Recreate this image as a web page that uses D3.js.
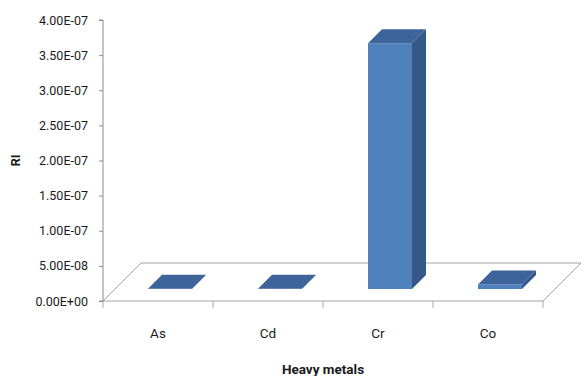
<!DOCTYPE html>
<html>
<head>
<meta charset="utf-8">
<script src="https://cdn.jsdelivr.net/npm/d3@7/dist/d3.min.js"></script>
<style>
  html, body { margin: 0; padding: 0; background: #ffffff; }
  svg { display: block; }
  text { font-family: Roboto, "Liberation Sans", Arial, sans-serif; fill: #1a1a1a; }
</style>
</head>
<body>
<svg id="chart" width="584" height="376"></svg>
<script>
// Risk index per heavy metal
const metals = ["As", "Cd", "Cr", "Co"];
const riValues = [5e-10, 4e-10, 3.5e-7, 6.5e-9];
const yTicks = [0, 5e-8, 1e-7, 1.5e-7, 2e-7, 2.5e-7, 3e-7, 3.5e-7, 4e-7];

(function () {
  const svg = d3.select("#chart");
  const fontStack = "Roboto, 'Liberation Sans', Arial, sans-serif";

  // Plot frame (front plane of the oblique 3D floor)
  const plotLeft = 103, plotRight = 543, plotTop = 20, plotBottom = 301;
  const floorDepth = 38;             // oblique offset of the floor (dx = -dy)
  const barFront = 12, barBack = 26; // bar depth span inside the floor

  const x = d3.scaleBand().domain(metals).range([plotLeft, plotRight]).padding(0);
  const y = d3.scaleLinear().domain([0, 4e-7]).range([plotBottom, plotTop]);
  const barW = x.bandwidth() * 0.4;

  const colors = { front: "#4f81bd", top: "#3d659b", side: "#34588a" };

  // Floor parallelogram
  const floorPts = [
    [plotLeft, plotBottom], [plotRight, plotBottom],
    [plotRight + floorDepth, plotBottom - floorDepth], [plotLeft + floorDepth, plotBottom - floorDepth]
  ];
  svg.append("polygon")
    .attr("points", floorPts.map(p => p.join(",")).join(" "))
    .attr("fill", "#ffffff")
    .attr("stroke", "#a6a6a6")
    .attr("stroke-width", 1);

  // Category boundary ticks below the front edge
  const boundaries = metals.map(m => x(m)).concat([plotRight]);
  svg.append("g").selectAll("line").data(boundaries).join("line")
    .attr("x1", d => d).attr("x2", d => d)
    .attr("y1", plotBottom).attr("y2", plotBottom + 7)
    .attr("stroke", "#a6a6a6");

  // Value axis
  const yAxis = d3.axisLeft(y)
    .tickValues(yTicks)
    .tickSize(4)
    .tickPadding(11)
    .tickFormat(v => {
      const [m, e] = v.toExponential(2).split("e");
      const sign = e[0] === "-" ? "-" : "+";
      const digits = e.replace(/^[+-]/, "").padStart(2, "0");
      return m + "E" + sign + digits;
    });
  const yg = svg.append("g").attr("transform", `translate(${plotLeft},0)`).call(yAxis);
  yg.select(".domain").attr("stroke", "#8c8c8c").attr("d", `M-4,${plotTop}H0V${plotBottom}H-4`);
  yg.selectAll(".tick line").attr("stroke", "#8c8c8c");
  yg.selectAll(".tick text").attr("font-size", 12.5).attr("fill", "#1a1a1a")
    .style("font-family", fontStack);

  // Bars as oblique boxes: front, top and right side faces
  const bars = svg.append("g").selectAll("g")
    .data(metals.map((m, i) => ({ m, v: riValues[i] }))).join("g");
  bars.each(function (d) {
    const g = d3.select(this);
    const x0 = x(d.m) + (x.bandwidth() - barW) / 2 + barFront;
    const x1 = x0 + barW;
    const yb = y(0) - barFront;
    const yt = y(d.v) - barFront;
    const dd = barBack - barFront;
    g.append("polygon")
      .attr("points", [[x0, yb], [x1, yb], [x1, yt], [x0, yt]].map(p => p.join(",")).join(" "))
      .attr("fill", colors.front);
    g.append("polygon")
      .attr("points", [[x0, yt], [x1, yt], [x1 + dd, yt - dd], [x0 + dd, yt - dd]].map(p => p.join(",")).join(" "))
      .attr("fill", colors.top);
    g.append("polygon")
      .attr("points", [[x1, yb], [x1 + dd, yb - dd], [x1 + dd, yt - dd], [x1, yt]].map(p => p.join(",")).join(" "))
      .attr("fill", colors.side);
  });

  // Category labels
  svg.append("g").selectAll("text").data(metals).join("text")
    .attr("x", d => x(d) + x.bandwidth() / 2)
    .attr("y", 338)
    .attr("text-anchor", "middle")
    .attr("font-size", 13.5)
    .text(d => d);

  // Axis titles
  svg.append("text")
    .attr("x", (plotLeft + plotRight) / 2)
    .attr("y", 374)
    .attr("text-anchor", "middle")
    .attr("font-size", 13.5)
    .attr("font-weight", "bold")
    .text("Heavy metals");

  svg.append("text")
    .attr("transform", `translate(20,${(plotTop + plotBottom) / 2}) rotate(-90)`)
    .attr("text-anchor", "middle")
    .attr("font-size", 12.5)
    .attr("font-weight", "bold")
    .text("RI");
})();
</script>
</body>
</html>
